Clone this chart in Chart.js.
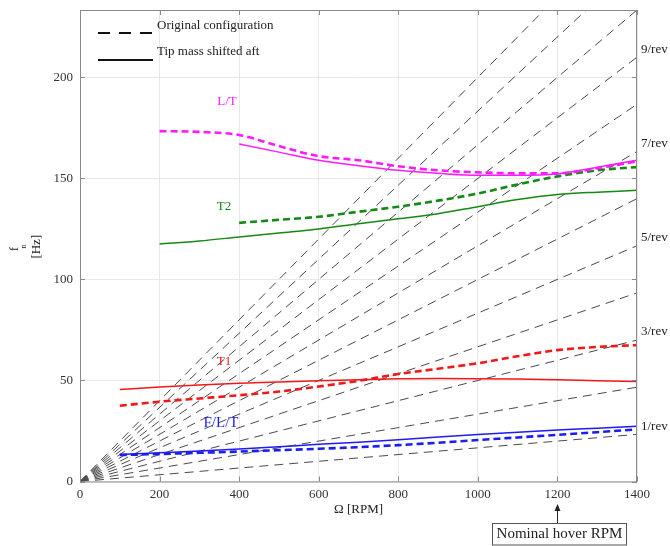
<!DOCTYPE html>
<html lang="en">
<head>
    <meta charset="UTF-8">
    <title>Natural frequencies vs rotor speed</title>
    <script src="https://cdn.jsdelivr.net/npm/chart.js"></script>
    <style>
        html, body { margin: 0; padding: 0; background: #fff; }
        canvas { display: block; }
    </style>
    <script>
        // Rotor speed stations (RPM)
        const rpm = [100, 200, 300, 400, 500, 600, 700, 800, 900, 1000, 1100, 1200, 1300, 1400];

        // Natural frequencies (Hz), original configuration (dashed)
        const ltOrig = [null, 173.4, 173.0, 171.5, 166.0, 161.0, 159.0, 156.0, 154.0, 153.0, 152.5, 152.5, 155.0, 158.5];
        const t2Orig = [null, null, null, 128.0, 129.5, 131.0, 133.5, 136.0, 139.0, 142.5, 147.0, 151.0, 154.0, 155.6];
        const t1Orig = [37.5, 39.5, 41.1, 42.7, 44.5, 47.0, 49.8, 53.2, 55.8, 58.5, 62.0, 65.0, 66.6, 67.5];
        const flOrig = [13.1, 13.6, 14.2, 14.8, 15.5, 16.2, 17.0, 18.0, 19.2, 20.5, 21.8, 23.1, 24.4, 25.8];

        // Natural frequencies (Hz), tip mass shifted aft (solid)
        const ltShift = [null, null, null, 167.0, 163.0, 159.0, 156.3, 154.0, 152.5, 151.5, 151.5, 152.2, 155.5, 159.0];
        const t2Shift = [null, 117.5, 119.0, 121.0, 123.0, 125.0, 127.5, 130.0, 132.5, 136.0, 139.5, 142.0, 143.2, 144.1];
        const t1Shift = [45.5, 46.8, 47.8, 48.6, 49.3, 49.9, 50.4, 50.8, 51.0, 50.9, 50.7, 50.4, 49.9, 49.5];
        const flShift = [13.3, 14.2, 15.1, 16.1, 17.2, 18.4, 19.4, 20.6, 22.0, 23.3, 24.4, 25.5, 26.4, 27.3];

        // Per-rev excitation lines: frequency reached at 1400 RPM for 1/rev ... 12/rev
        const revEndRpm = 1400;
        const revEndHz = [23.33, 46.67, 70, 93.33, 116.67, 140, 163.33, 186.67, 210, 233.33, 256.67, 280];
        const revLabels = ['1/rev', '3/rev', '5/rev', '7/rev', '9/rev'];
        const revLabelIdx = [0, 2, 4, 6, 8];

        const xTicks = [0, 200, 400, 600, 800, 1000, 1200, 1400];
        const yTicks = [0, 50, 100, 150, 200];
        const yMax = 233.33;
        const hoverRpm = 1200;

        const SERIF = '"Liberation Serif", "Times New Roman", serif';
        const MAGENTA = '#ff1aff';
        const GREEN = '#138a13';
        const RED = '#f01818';
        const BLUE = '#1c1cf5';

        function pts(ys) {
            return rpm.map((x, i) => ({ x: x, y: ys[i] }));
        }

        function curve(ys, color, dashed) {
            return {
                data: pts(ys),
                borderColor: color,
                borderWidth: dashed ? 2.6 : 1.5,
                borderDash: dashed ? [7, 4] : [],
                pointRadius: 0,
                cubicInterpolationMode: 'monotone',
                spanGaps: false
            };
        }

        // Labels, legend, frame and the hover annotation
        const overlay = {
            id: 'overlay',
            afterDraw(chart) {
                const c = chart.ctx;
                const a = chart.chartArea;
                const xs = chart.scales.x;
                const ys = chart.scales.y;
                c.save();

                // frame with inward ticks
                c.strokeStyle = '#8a8a8a';
                c.lineWidth = 1;
                c.setLineDash([]);
                c.strokeRect(a.left + 0.5, a.top + 0.5, a.right - a.left - 1, a.bottom - a.top);
                c.beginPath();
                xTicks.forEach(v => {
                    const px = Math.round(xs.getPixelForValue(v)) + 0.5;
                    c.moveTo(px, a.bottom); c.lineTo(px, a.bottom - 5);
                    c.moveTo(px, a.top); c.lineTo(px, a.top + 5);
                });
                yTicks.forEach(v => {
                    const py = Math.round(ys.getPixelForValue(v)) + 0.5;
                    c.moveTo(a.left, py); c.lineTo(a.left + 5, py);
                    c.moveTo(a.right, py); c.lineTo(a.right - 5, py);
                });
                c.stroke();

                // legend
                c.strokeStyle = '#111';
                c.lineWidth = 1.8;
                c.setLineDash([12, 9]);
                c.beginPath(); c.moveTo(98, 33); c.lineTo(153, 33); c.stroke();
                c.setLineDash([]);
                c.lineWidth = 2;
                c.beginPath(); c.moveTo(98, 60); c.lineTo(153, 60); c.stroke();
                c.fillStyle = '#222';
                c.font = '13px ' + SERIF;
                c.textAlign = 'left';
                c.textBaseline = 'middle';
                c.fillText('Original configuration', 157, 26);
                c.fillText('Tip mass shifted aft', 157, 52);

                // mode labels
                c.textAlign = 'center';
                c.fillStyle = MAGENTA; c.fillText('L/T', 227, 102);
                c.fillStyle = GREEN; c.fillText('T2', 224, 207);
                c.fillStyle = RED; c.fillText('T1', 224, 362);
                c.fillStyle = BLUE; c.font = '15px ' + SERIF; c.fillText('F/L/T', 221, 423);

                // per-rev labels at the right edge
                c.fillStyle = '#222';
                c.font = '13px ' + SERIF;
                c.textAlign = 'left';
                revLabels.forEach((t, i) => {
                    const py = ys.getPixelForValue(revEndHz[revLabelIdx[i]]) - 8;
                    c.fillText(t, a.right + 4, py);
                });

                // axis titles
                c.fillStyle = '#222';
                c.textAlign = 'center';
                c.fillText('\u03A9 [RPM]', (a.left + a.right) / 2, 510);
                c.save();
                c.translate(15, 250);
                c.rotate(-Math.PI / 2);
                c.fillText('f', 1, 0);
                c.font = '9px ' + SERIF;
                c.fillText('n', 3.5, 9);
                c.font = '13px ' + SERIF;
                c.fillText('[Hz]', 3.3, 22);
                c.restore();

                // nominal hover annotation
                const hx = Math.round(xs.getPixelForValue(hoverRpm)) + 0.5;
                c.strokeStyle = '#222';
                c.fillStyle = '#222';
                c.lineWidth = 1;
                c.beginPath(); c.moveTo(hx, 523); c.lineTo(hx, 508); c.stroke();
                c.beginPath();
                c.moveTo(hx, 504); c.lineTo(hx - 3, 511); c.lineTo(hx + 3, 511);
                c.closePath(); c.fill();
                c.strokeStyle = '#555';
                c.strokeRect(492.5, 523.5, 134, 21.5);
                c.fillStyle = '#222';
                c.font = '15px ' + SERIF;
                c.fillText('Nominal hover RPM', 559.5, 534.5);

                c.restore();
            }
        };

        window.onload = function () {
            const datasets = [
                curve(ltOrig, MAGENTA, true),
                curve(ltShift, MAGENTA, false),
                curve(t2Orig, GREEN, true),
                curve(t2Shift, GREEN, false),
                curve(t1Orig, RED, true),
                curve(t1Shift, RED, false),
                curve(flOrig, BLUE, true),
                curve(flShift, BLUE, false)
            ];
            revEndHz.forEach(hz => {
                datasets.push({
                    data: [{ x: 0, y: 0 }, { x: revEndRpm, y: hz }],
                    borderColor: '#4a4a4a',
                    borderWidth: 1,
                    borderDash: [9, 6],
                    pointRadius: 0,
                    tension: 0
                });
            });

            const ctx = document.getElementById('freqChart').getContext('2d');
            new Chart(ctx, {
                type: 'line',
                data: { datasets: datasets },
                plugins: [overlay],
                options: {
                    responsive: false,
                    animation: false,
                    devicePixelRatio: 1,
                    layout: { padding: { top: 10, right: 33, left: 0, bottom: 0 } },
                    plugins: { legend: { display: false }, tooltip: { enabled: false } },
                    scales: {
                        x: {
                            type: 'linear',
                            min: 0,
                            max: 1400,
                            afterFit: s => { s.height = 64.5; s.paddingLeft = 0; s.paddingRight = 0; },
                            ticks: { stepSize: 200, padding: 5, color: '#333', font: { family: SERIF, size: 13 }, callback: v => String(v) },
                            grid: { color: '#e8e8e8', drawTicks: false },
                            border: { display: false }
                        },
                        y: {
                            type: 'linear',
                            min: 0,
                            max: yMax,
                            afterFit: s => { s.width = 80; s.paddingTop = 0; s.paddingBottom = 0; },
                            ticks: { stepSize: 50, includeBounds: false, padding: 7, color: '#333', font: { family: SERIF, size: 13 }, callback: v => String(v) },
                            grid: { color: '#e8e8e8', drawTicks: false },
                            border: { display: false }
                        }
                    }
                }
            });
        };
    </script>
</head>
<body>
    <canvas id="freqChart" width="670" height="546"></canvas>
</body>
</html>
